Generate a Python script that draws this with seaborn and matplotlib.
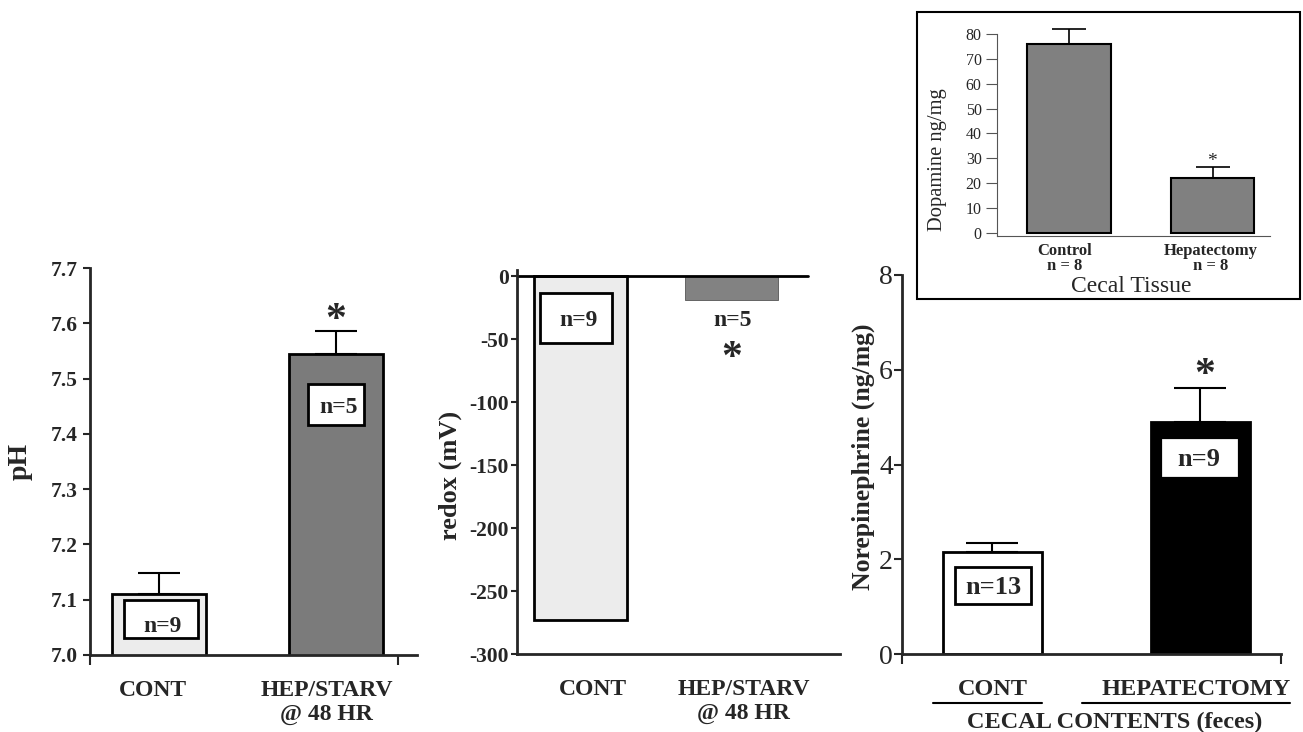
import numpy as np
import pandas as pd
import seaborn as sns
import matplotlib.pyplot as plt
from matplotlib.patches import Rectangle
from matplotlib.lines import Line2D

# ---- data ----
ph_groups = ["CONT", "HEP/STARV\n@ 48 HR"]
ph_mean = [7.110, 7.544]
ph_err = [0.038, 0.042]
ph_n = ["n=9", "n=5"]

redox_groups = ["CONT", "HEP/STARV\n@ 48 HR"]
redox_mean = [-273, -19]
redox_n = ["n=9", "n=5"]

ne_groups = ["CONT", "HEPATECTOMY"]
ne_mean = [2.15, 4.90]
ne_err = [0.19, 0.72]
ne_n = ["n=13", "n=9"]

da_groups = ["Control\nn = 8", "Hepatectomy\nn = 8"]
da_mean = [76.0, 22.0]
da_err = [6.2, 4.6]

W, H = 1303, 732

sns.set_style("ticks")
plt.rcParams["font.family"] = ["Liberation Serif", "DejaVu Serif"]
plt.rcParams["axes.linewidth"] = 2


def box(px0, py0, px1, py1):
    # figure-fraction rect from pixel corners (top-left origin)
    return [px0 / W, 1 - py1 / H, (px1 - px0) / W, (py1 - py0) / H]


def bars(ax, groups, vals, colors, width, edge="black", lw=2):
    df = pd.DataFrame({"g": groups, "v": vals})
    sns.barplot(data=df, x="g", y="v", hue="g", palette=colors, legend=False,
                width=width, edgecolor=edge, linewidth=lw, ax=ax, errorbar=None)
    ax.set_xlabel("")


def caps(ax, vals, errs, lw=1.5, cap=10):
    x = np.arange(len(vals))
    ax.errorbar(x, vals, yerr=[np.zeros(len(errs)), errs], fmt="none",
                ecolor="black", elinewidth=lw, capsize=cap, capthick=lw, clip_on=False)


def ftext(px, py, s, **kw):
    fig.text(px / W, 1 - py / H, s, ha="center", va="center", **kw)


def nbox(cx, cy, w, h, s, tx=None, ty=None, size=17, edge="black"):
    # white label box with n=...
    fig.add_artist(Rectangle(((cx - w / 2) / W, 1 - (cy + h / 2) / H), w / W, h / H,
                             transform=fig.transFigure, fc="white", ec=edge, lw=2, zorder=5))
    fig.text((tx if tx else cx) / W, 1 - (ty if ty else cy) / H, s, ha="center",
             va="center", fontsize=size, fontweight="bold", zorder=6)


def star(px, py, size=30):
    # glyph sits high in its box, so nudge down
    ftext(px, py + size * 0.3, "*", fontsize=size, fontweight="bold")


fig = plt.figure(figsize=(W / 100, H / 100), dpi=100)

# ---- panel 1: pH ----
ax1 = fig.add_axes(box(90, 268, 417, 655))
bars(ax1, ph_groups, ph_mean, ["#ececec", "#7b7b7b"], 0.53)
caps(ax1, ph_mean, ph_err, cap=15)
ax1.set_ylim(7.0, 7.7)
ax1.set_xlim(-0.39, 1.46)
ax1.set_yticks(np.arange(7.0, 7.71, 0.1))
ax1.set_yticklabels([f"{v:.1f}" for v in np.arange(7.0, 7.71, 0.1)],
                    fontsize=15.5, fontweight="bold")
ax1.tick_params(axis="y", direction="out", length=5, width=1.5, pad=4)
ax1.tick_params(axis="x", length=0, pad=18)
ax1.set_xticks([-0.035, 0.95])
ax1.set_xticklabels(ph_groups, fontsize=17, fontweight="bold", linespacing=1.2)
ax1.set_xticks([-0.39, 1.35], minor=True)
ax1.tick_params(axis="x", which="minor", direction="out", length=7, width=1.5)
ax1.set_ylabel("pH", fontsize=20, fontweight="bold")
ax1.yaxis.set_label_coords(-0.174, 0.5)
sns.despine(ax=ax1)
nbox(161, 619, 74, 38, ph_n[0], 163, 626)
nbox(336, 405, 56, 41, ph_n[1], 339, 408)
star(336, 312)

# ---- panel 2: redox ----
ax2 = fig.add_axes(box(517, 270, 840, 654))
bars(ax2, redox_groups, redox_mean, ["#ececec", "#828282"], 0.62)
ax2.patches[1].set_linewidth(0.6)
ax2.patches[1].set_edgecolor("#555555")
ax2.set_ylim(-300, 4.8)
ax2.set_xlim(-0.42, 1.72)
ax2.axhline(0, xmin=0, xmax=0.90, color="black", lw=2)
ax2.set_yticks(np.arange(-300, 1, 50))
ax2.set_yticklabels([str(v) for v in range(-300, 1, 50)], fontsize=15.5, fontweight="bold")
ax2.tick_params(axis="y", direction="out", length=4, width=1.5, pad=2)
ax2.tick_params(axis="x", length=0, pad=18)
ax2.set_xticks([0.08, 1.08])
ax2.set_xticklabels(redox_groups, fontsize=17, fontweight="bold", linespacing=1.2)
ax2.set_ylabel("redox (mV)", fontsize=19, fontweight="bold")
ax2.yaxis.set_label_coords(-0.17, 0.464)
sns.despine(ax=ax2)
nbox(576, 318, 72, 50, redox_n[0], 578, 320)
ftext(733, 320, redox_n[1], fontsize=17, fontweight="bold")
star(732, 350)

# ---- panel 3: norepinephrine ----
ax3 = fig.add_axes(box(902, 275, 1281, 654))
bars(ax3, ne_groups, ne_mean, ["white", "black"], 0.476)
caps(ax3, ne_mean, ne_err, cap=19)
ax3.set_ylim(0, 8)
ax3.set_xlim(-0.435, 1.387)
ax3.set_yticks([0, 2, 4, 6, 8])
ax3.set_yticklabels(["0", "2", "4", "6", "8"], fontsize=20)
ax3.tick_params(axis="y", direction="out", length=6, width=1.5, pad=0.5)
ax3.set_xticks([0, 0.98])
ax3.set_xticklabels(ne_groups, fontsize=17.5, fontweight="bold")
ax3.tick_params(axis="x", length=0, pad=18)
ax3.set_xticks([-0.435, 1.385], minor=True)
ax3.tick_params(axis="x", which="minor", direction="out", length=7, width=1.5)
ax3.set_ylabel("Norepinephrine (ng/mg)", fontsize=18.5, fontweight="bold")
ax3.yaxis.set_label_coords(-0.07, 0.52)
sns.despine(ax=ax3)
nbox(993, 585, 76, 37, ne_n[0], 993, 587, size=19)
nbox(1199, 457, 73, 35, ne_n[1], 1199, 459, size=19, edge="white")
star(1205, 367)

# underlines + group caption
for x0, x1 in [(933, 1042), (1082, 1290)]:
    fig.add_artist(Line2D([x0 / W, x1 / W], [1 - 703 / H] * 2, color="black", lw=1.5))
ftext(1115, 722, "CECAL CONTENTS (feces)", fontsize=17.5, fontweight="bold")

# ---- inset: dopamine ----
fig.add_artist(Rectangle((917 / W, 1 - 299 / H), (1300 - 917) / W, (299 - 12) / H,
                         transform=fig.transFigure, fill=False, ec="black", lw=1.5))
ax4 = fig.add_axes(box(997, 34, 1270, 236))
bars(ax4, da_groups, da_mean, ["#808080", "#808080"], 0.58, lw=1.5)
caps(ax4, da_mean, da_err, lw=1.2, cap=12)
ax4.set_ylim(-1.3, 80)
ax4.set_xlim(-0.5, 1.4)
ax4.set_yticks(np.arange(0, 81, 10))
ax4.set_yticklabels([str(v) for v in range(0, 81, 10)], fontsize=11.5)
ax4.tick_params(axis="y", direction="out", length=8, width=0.8, color="#555555", pad=3)
ax4.set_xticks([-0.03, 0.99])
ax4.set_xticklabels(da_groups, fontsize=12, fontweight="bold", linespacing=0.95)
ax4.tick_params(axis="x", length=0, pad=5)
for s in ["left", "bottom"]:
    ax4.spines[s].set_linewidth(0.8)
    ax4.spines[s].set_color("#555555")
ax4.set_ylabel("Dopamine ng/mg", fontsize=14.8)
ax4.yaxis.set_label_coords(-0.183, 0.376)
sns.despine(ax=ax4)
ftext(1212, 161, "*", fontsize=14)
ftext(1131, 287, "Cecal Tissue", fontsize=17)

fig.savefig("out.png", dpi=100)
